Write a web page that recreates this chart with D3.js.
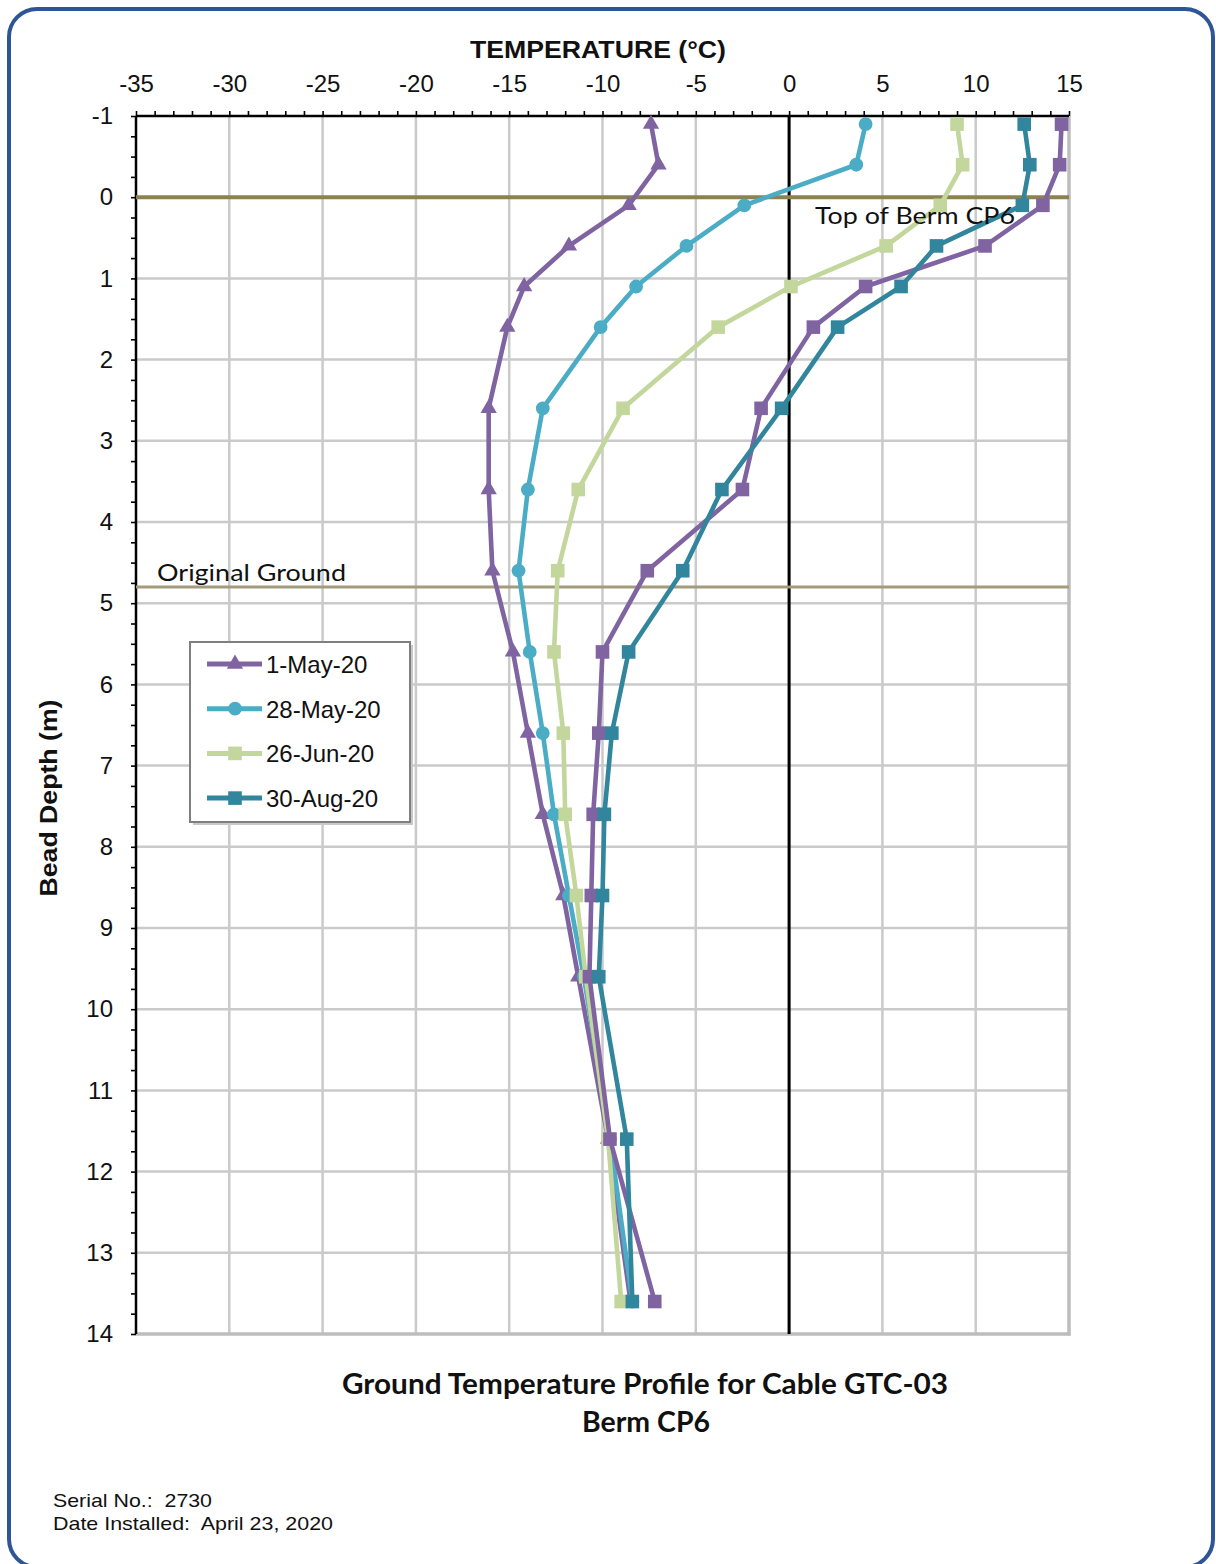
<!DOCTYPE html>
<html><head><meta charset="utf-8">
<script src="https://cdn.jsdelivr.net/npm/d3@7/dist/d3.min.js"></script>
<style>html,body{margin:0;padding:0;background:#fff;}svg{display:block;}</style>
</head><body>
<svg id="chart" width="1216" height="1564"></svg>
<script>
// ---------- data ----------
const depths = [-0.9, -0.4, 0.1, 0.6, 1.1, 1.6, 2.6, 3.6, 4.6, 5.6, 6.6, 7.6, 8.6, 9.6, 11.6, 13.6];
const may01 = [-7.4, -7.0, -8.6, -11.8, -14.2, -15.1, -16.1, -16.1, -15.9, -14.8, -14.0, -13.2, -12.1, -11.3, -9.7, -8.5];
const may28 = [4.1, 3.6, -2.4, -5.5, -8.2, -10.1, -13.2, -14.0, -14.5, -13.9, -13.2, -12.6, -11.8, -11.0, -9.6, -8.4];
const jun26 = [9.0, 9.3, 8.1, 5.2, 0.1, -3.8, -8.9, -11.3, -12.4, -12.6, -12.1, -12.0, -11.4, -10.9, -9.7, -9.0];
const aug30 = [12.6, 12.9, 12.5, 7.9, 6.0, 2.6, -0.4, -3.6, -5.7, -8.6, -9.5, -9.9, -10.0, -10.2, -8.7, -8.4];
const extraPurple = [14.6, 14.5, 13.6, 10.5, 4.1, 1.3, -1.5, -2.5, -7.6, -10.0, -10.2, -10.5, -10.6, -10.7, -9.6, -7.2];
const legendLabels = ["1-May-20", "28-May-20", "26-Jun-20", "30-Aug-20"];
const xTicks = [-35, -30, -25, -20, -15, -10, -5, 0, 5, 10, 15];
const yTicks = [-1, 0, 1, 2, 3, 4, 5, 6, 7, 8, 9, 10, 11, 12, 13, 14];
const topOfBerm = 0;
const originalGround = 4.8;

// ---------- layout ----------
const svg = d3.select("#chart");
const X0 = 136, X1 = 1069, Y0 = 116, Y1 = 1334;
const x = d3.scaleLinear().domain([-35, 15]).range([X0, X1]);
const y = d3.scaleLinear().domain([-1, 14]).range([Y0, Y1]);
const arial = "'Liberation Sans', Arial, sans-serif";
const calibri = "Lato, 'Open Sans', sans-serif";
const fmt = d => String(d);

// frame
svg.append("rect").attr("x", 9).attr("y", 9).attr("width", 1204).attr("height", 1558)
  .attr("rx", 28).attr("fill", "#fff").attr("stroke", "#2E5596").attr("stroke-width", 4);

// grid
const g = svg.append("g");
g.selectAll(".vg").data(xTicks.filter(t => t > -35 && t < 15)).join("line")
  .attr("x1", d => x(d)).attr("x2", d => x(d)).attr("y1", Y0).attr("y2", Y1)
  .attr("stroke", "#CACACA").attr("stroke-width", 2.5);
g.selectAll(".hg").data(yTicks.filter(t => t > -1 && t < 14)).join("line")
  .attr("x1", X0).attr("x2", X1).attr("y1", d => y(d)).attr("y2", d => y(d))
  .attr("stroke", "#CACACA").attr("stroke-width", 2.5);
g.append("line").attr("x1", X1).attr("x2", X1).attr("y1", Y0).attr("y2", Y1 + 1.5).attr("stroke", "#BDBDBD").attr("stroke-width", 3.5);
g.append("line").attr("x1", X0).attr("x2", X1 + 1.5).attr("y1", Y1).attr("y2", Y1).attr("stroke", "#BDBDBD").attr("stroke-width", 3.5);

// zero line
g.append("line").attr("x1", x(0)).attr("x2", x(0)).attr("y1", Y0).attr("y2", Y1).attr("stroke", "#000").attr("stroke-width", 3);

// axes
const xAxis = d3.axisTop(x).tickValues(xTicks).tickSize(0).tickPadding(24).tickFormat(fmt);
const xa = svg.append("g").attr("transform", `translate(0,${Y0})`).call(xAxis);
xa.select(".domain").remove();
xa.selectAll("text").attr("font-family", arial).attr("font-size", 24).attr("fill", "#111");
const xMinor = d3.axisTop(x).ticks(50).tickSize(5).tickFormat("");
const xm = svg.append("g").attr("transform", `translate(0,${Y0})`).call(xMinor);
xm.select(".domain").remove();
xm.selectAll("line").attr("stroke", "#000").attr("stroke-width", 1.6);

const yAxis = d3.axisLeft(y).tickValues(yTicks).tickSize(0).tickPadding(23).tickFormat(fmt);
const ya = svg.append("g").attr("transform", `translate(${X0},0)`).call(yAxis);
ya.select(".domain").remove();
ya.selectAll("text").attr("font-family", arial).attr("font-size", 24).attr("fill", "#111");
const yMinor = d3.axisLeft(y).tickValues(d3.range(-1, 14.001, 0.25)).tickSize(5).tickFormat("");
const ym = svg.append("g").attr("transform", `translate(${X0},0)`).call(yMinor);
ym.select(".domain").remove();
ym.selectAll("line").attr("stroke", "#000").attr("stroke-width", 1.6);

svg.append("line").attr("x1", X0).attr("x2", X1).attr("y1", Y0).attr("y2", Y0).attr("stroke", "#000").attr("stroke-width", 2.5);
svg.append("line").attr("x1", X0).attr("x2", X0).attr("y1", Y0).attr("y2", Y1).attr("stroke", "#000").attr("stroke-width", 2.5);

// reference lines
svg.append("line").attr("x1", X0).attr("x2", X1).attr("y1", y(topOfBerm)).attr("y2", y(topOfBerm))
  .attr("stroke", "#8C8150").attr("stroke-width", 4);
svg.append("line").attr("x1", X0).attr("x2", X1).attr("y1", y(originalGround)).attr("y2", y(originalGround))
  .attr("stroke", "#A39C7C").attr("stroke-width", 3);

// series
const series = [
  {name: legendLabels[0], vals: may01, color: "#8064A2", marker: "triangle", legend: true},
  {name: legendLabels[1], vals: may28, color: "#4BACC6", marker: "circle", legend: true},
  {name: legendLabels[2], vals: jun26, color: "#C3D69B", marker: "square", legend: true},
  {name: "extra", vals: extraPurple, color: "#8064A2", marker: "square", legend: false},
  {name: legendLabels[3], vals: aug30, color: "#31859C", marker: "square", legend: true}
];
const symbols = {
  triangle: d3.symbol().type(d3.symbolTriangle).size(115),
  circle: d3.symbol().type(d3.symbolCircle).size(150),
  square: d3.symbol().type(d3.symbolSquare).size(185)
};
const line = d3.line().x(d => x(d[1])).y(d => y(d[0]));
series.forEach(s => {
  const pts = depths.map((dd, i) => [dd, s.vals[i]]);
  const sg = svg.append("g");
  sg.append("path").attr("d", line(pts)).attr("fill", "none").attr("stroke", s.color)
    .attr("stroke-width", 4.6).attr("stroke-linejoin", "round");
  sg.selectAll("path.m").data(pts).join("path").attr("class", "m")
    .attr("transform", d => `translate(${x(d[1])},${y(d[0])})`)
    .attr("d", symbols[s.marker]()).attr("fill", s.color);
});

// annotation labels
svg.append("text").attr("x", 815).attr("y", 224).attr("font-family", calibri).attr("font-size", 24)
  .attr("textLength", 200).attr("lengthAdjust", "spacingAndGlyphs").attr("fill", "#111").text("Top of Berm CP6");
svg.append("text").attr("x", 157).attr("y", 581).attr("font-family", calibri).attr("font-size", 24)
  .attr("textLength", 189).attr("lengthAdjust", "spacingAndGlyphs").attr("fill", "#111").text("Original Ground");

// titles
svg.append("text").attr("x", 598).attr("y", 58).attr("text-anchor", "middle").attr("font-family", arial)
  .attr("font-weight", "bold").attr("font-size", 24).attr("textLength", 256).attr("lengthAdjust", "spacingAndGlyphs")
  .attr("fill", "#111").text("TEMPERATURE (°C)");
svg.append("text").attr("transform", "translate(57,798) rotate(-90)").attr("text-anchor", "middle")
  .attr("font-family", arial).attr("font-weight", "bold").attr("font-size", 24)
  .attr("textLength", 197).attr("lengthAdjust", "spacingAndGlyphs").attr("fill", "#111").text("Bead Depth (m)");

// legend
const lg = svg.append("g");
lg.append("rect").attr("x", 193).attr("y", 645).attr("width", 220).attr("height", 180).attr("fill", "#C8C8C8");
lg.append("rect").attr("x", 190).attr("y", 642).attr("width", 220).attr("height", 180)
  .attr("fill", "#fff").attr("stroke", "#7F7F7F").attr("stroke-width", 2);
series.filter(s => s.legend).forEach((s, i) => {
  const cy = 664 + i * 44.7;
  lg.append("line").attr("x1", 207).attr("x2", 262).attr("y1", cy).attr("y2", cy)
    .attr("stroke", s.color).attr("stroke-width", 5);
  lg.append("path").attr("transform", `translate(235,${cy})`).attr("d", symbols[s.marker]()).attr("fill", s.color);
  lg.append("text").attr("x", 266).attr("y", cy + 9).attr("font-family", arial).attr("font-size", 24)
    .attr("fill", "#111").text(s.name);
});

// bottom titles
svg.append("text").attr("x", 645).attr("y", 1394).attr("text-anchor", "middle").attr("font-family", calibri)
  .attr("font-weight", "bold").attr("font-size", 28).attr("textLength", 606).attr("lengthAdjust", "spacingAndGlyphs")
  .attr("fill", "#111").text("Ground Temperature Profile for Cable GTC-03");
svg.append("text").attr("x", 646).attr("y", 1432).attr("text-anchor", "middle").attr("font-family", calibri)
  .attr("font-weight", "bold").attr("font-size", 28).attr("textLength", 128).attr("lengthAdjust", "spacingAndGlyphs")
  .attr("fill", "#111").text("Berm CP6");

svg.append("text").attr("x", 53).attr("y", 1507).attr("font-family", arial).attr("font-size", 19)
  .attr("textLength", 159).attr("lengthAdjust", "spacingAndGlyphs").attr("fill", "#111").attr("xml:space", "preserve")
  .text("Serial No.:  2730");
svg.append("text").attr("x", 53).attr("y", 1530).attr("font-family", arial).attr("font-size", 19)
  .attr("textLength", 280).attr("lengthAdjust", "spacingAndGlyphs").attr("fill", "#111").attr("xml:space", "preserve")
  .text("Date Installed:  April 23, 2020");
</script>
</body></html>
